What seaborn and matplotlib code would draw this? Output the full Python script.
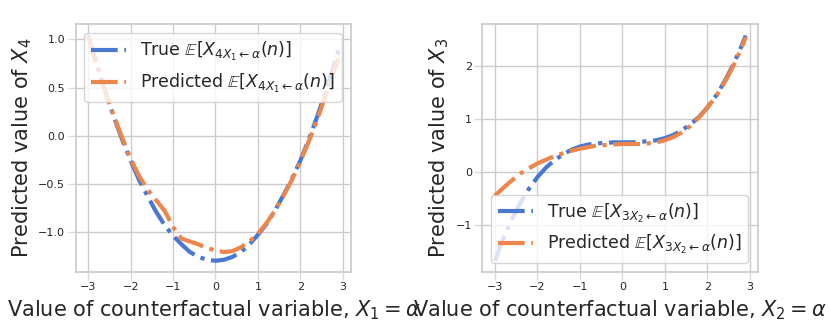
import matplotlib
matplotlib.use("Agg")
import matplotlib.pyplot as plt
import seaborn as sns

x_vals = [-3.0, -2.8, -2.6, -2.4, -2.2, -2.0, -1.8, -1.6, -1.4, -1.2, -1.0, -0.8, -0.6, -0.4, -0.2,
          0.0, 0.2, 0.4, 0.6, 0.8, 1.0, 1.2, 1.4, 1.6, 1.8, 2.0, 2.2, 2.4, 2.6, 2.8, 2.9]

x4_true = [1.04, 0.74, 0.46, 0.20, -0.04, -0.26, -0.46, -0.63, -0.79, -0.93, -1.04, -1.13, -1.21, -1.26, -1.29,
           -1.30, -1.29, -1.26, -1.21, -1.13, -1.03, -0.92, -0.78, -0.62, -0.45, -0.26, -0.04, 0.20, 0.46, 0.74, 0.89]
x4_pred = [1.03, 0.74, 0.46, 0.21, -0.02, -0.24, -0.42, -0.56, -0.67, -0.78, -0.95, -1.07, -1.10, -1.13, -1.17,
           -1.19, -1.21, -1.20, -1.16, -1.10, -1.02, -0.91, -0.78, -0.63, -0.46, -0.27, -0.06, 0.17, 0.42, 0.68, 0.80]

x3_true = [-1.68, -1.26, -0.90, -0.59, -0.32, -0.10, 0.08, 0.22, 0.33, 0.42, 0.48, 0.52, 0.54, 0.55, 0.56,
           0.56, 0.56, 0.57, 0.58, 0.60, 0.64, 0.70, 0.79, 0.90, 1.04, 1.22, 1.44, 1.71, 2.02, 2.38, 2.58]
x3_pred = [-0.45, -0.30, -0.16, -0.03, 0.07, 0.16, 0.23, 0.30, 0.35, 0.40, 0.44, 0.47, 0.50, 0.51, 0.52,
           0.53, 0.53, 0.53, 0.54, 0.56, 0.60, 0.66, 0.75, 0.87, 1.03, 1.22, 1.43, 1.69, 1.99, 2.34, 2.55]

xlabels = [r"Value of counterfactual variable, $X_1 = \alpha$",
           r"Value of counterfactual variable, $X_2 = \alpha$"]
ylabels = [r"Predicted value of $X_4$", r"Predicted value of $X_3$"]
legend_true = [r"True $\mathbb{E}[X_{4X_1 \leftarrow \alpha}(n)]$",
               r"True $\mathbb{E}[X_{3X_2 \leftarrow \alpha}(n)]$"]
legend_pred = [r"Predicted $\mathbb{E}[X_{4X_1 \leftarrow \alpha}(n)]$",
               r"Predicted $\mathbb{E}[X_{3X_2 \leftarrow \alpha}(n)]$"]

sns.set_theme(style="whitegrid", palette="muted")
pal = sns.color_palette("muted")

fig = plt.figure(figsize=(8.3, 3.32), dpi=100)
ax1 = fig.add_axes([0.0912, 0.1807, 0.3317, 0.7461])
ax2 = fig.add_axes([0.5811, 0.1807, 0.3325, 0.7461])

series = [(x4_true, x4_pred), (x3_true, x3_pred)]
locs = ["upper left", "lower left"]
for i, ax in enumerate([ax1, ax2]):
    t, p = series[i]
    sns.lineplot(x=x_vals, y=t, ax=ax, color=pal[0], linestyle="-.", linewidth=3, label=legend_true[i])
    sns.lineplot(x=x_vals, y=p, ax=ax, color=pal[1], linestyle="-.", linewidth=3, label=legend_pred[i])
    ax.set_xlabel(xlabels[i], fontsize=15)
    ax.set_ylabel(ylabels[i], fontsize=15, labelpad=3)
    ax.tick_params(labelsize=8, left=True, bottom=True, color="0.85", length=6, width=1, pad=1.5)
    ax.set_xticks([-3, -2, -1, 0, 1, 2, 3])
    ax.legend(loc=locs[i], fontsize=12.5)

ax1.set_yticks([-1.0, -0.5, 0.0, 0.5, 1.0])
ax2.set_yticks([-1, 0, 1, 2])

fig.savefig("out.png", dpi=100)
